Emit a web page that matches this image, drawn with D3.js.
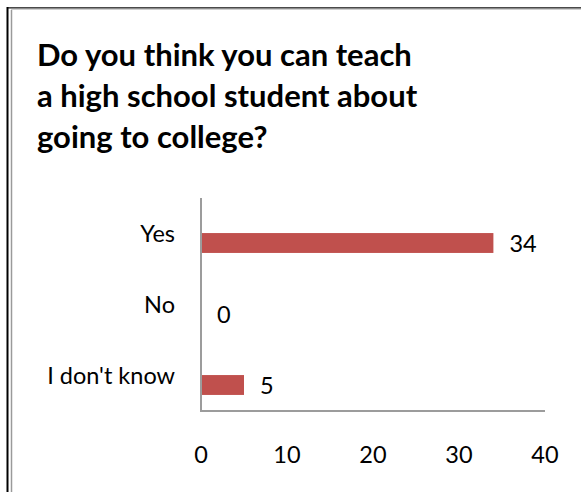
<!DOCTYPE html>
<html>
<head>
<meta charset="utf-8">
<script src="https://cdn.jsdelivr.net/npm/d3@7"></script>
<style>
  html, body { margin: 0; padding: 0; background: #fff; }
  svg { display: block; }
</style>
</head>
<body>
<svg id="chart" width="581" height="492"></svg>
<script>
// Survey answers and counts
const titleLines = ["Do you think you can teach", "a high school student about", "going to college?"];
const categories = ["Yes", "No", "I don't know"];
const counts = [34, 0, 5];
const tickValues = [0, 10, 20, 30, 40];

const svg = d3.select("#chart");
const W = 581, H = 492;
const font = "Lato, 'Open Sans', sans-serif";

// Frame lines along the top and left edges
svg.append("line").attr("x1", 7).attr("x2", W).attr("y1", 7.5).attr("y2", 7.5)
  .attr("stroke", "#4a4a4a").attr("stroke-width", 1);
svg.append("line").attr("x1", 8).attr("x2", W).attr("y1", 8.5).attr("y2", 8.5)
  .attr("stroke", "#8c8c8c").attr("stroke-width", 1);
svg.append("line").attr("x1", 11).attr("x2", W).attr("y1", 9.5).attr("y2", 9.5)
  .attr("stroke", "#cfcfcf").attr("stroke-width", 1);
svg.append("line").attr("x1", 7.5).attr("x2", 7.5).attr("y1", 7).attr("y2", H)
  .attr("stroke", "#000").attr("stroke-width", 2);
svg.append("line").attr("x1", 11.5).attr("x2", 11.5).attr("y1", 10).attr("y2", H)
  .attr("stroke", "#9a9a9a").attr("stroke-width", 1.5);

// Title
svg.append("g").selectAll("text").data(titleLines).join("text")
  .attr("x", 37)
  .attr("y", (d, i) => 66 + i * 41)
  .attr("font-family", font)
  .attr("font-weight", "bold")
  .attr("font-size", 31)
  .attr("fill", "#000")
  .text(d => d);

// Scales
const x = d3.scaleLinear().domain([0, 40]).range([201, 545]);
const y = d3.scaleBand().domain(categories).range([198, 411])
  .paddingInner(0.72).paddingOuter(0.36);
const barShift = 9.5;

// Bars
svg.append("g").selectAll("rect").data(categories).join("rect")
  .attr("x", x(0))
  .attr("y", d => y(d) + barShift)
  .attr("width", (d, i) => x(counts[i]) - x(0))
  .attr("height", y.bandwidth())
  .attr("fill", "#c0504d");

// Axis lines
svg.append("line").attr("x1", 201).attr("x2", 201).attr("y1", 198).attr("y2", 412)
  .attr("stroke", "#9c9c9c").attr("stroke-width", 2);
svg.append("line").attr("x1", 200).attr("x2", 545).attr("y1", 411).attr("y2", 411)
  .attr("stroke", "#9c9c9c").attr("stroke-width", 2);

// Category labels
svg.append("g").selectAll("text").data(categories).join("text")
  .attr("x", 175)
  .attr("y", d => y(d) + y.bandwidth() / 2)
  .attr("dy", "0.36em")
  .attr("text-anchor", "end")
  .attr("font-family", font)
  .attr("font-size", 23.5)
  .attr("fill", "#000")
  .text(d => d);

// Value labels
svg.append("g").selectAll("text").data(categories).join("text")
  .attr("x", (d, i) => x(counts[i]) + 16)
  .attr("y", d => y(d) + barShift + y.bandwidth() / 2 + 1)
  .attr("dy", "0.36em")
  .attr("font-family", font)
  .attr("font-size", 23.5)
  .attr("fill", "#000")
  .text((d, i) => counts[i]);

// Value axis tick labels
svg.append("g").selectAll("text").data(tickValues).join("text")
  .attr("x", d => x(d))
  .attr("y", 455)
  .attr("dy", "0.36em")
  .attr("text-anchor", "middle")
  .attr("font-family", font)
  .attr("font-size", 23.5)
  .attr("fill", "#000")
  .text(d => d);
</script>
</body>
</html>
